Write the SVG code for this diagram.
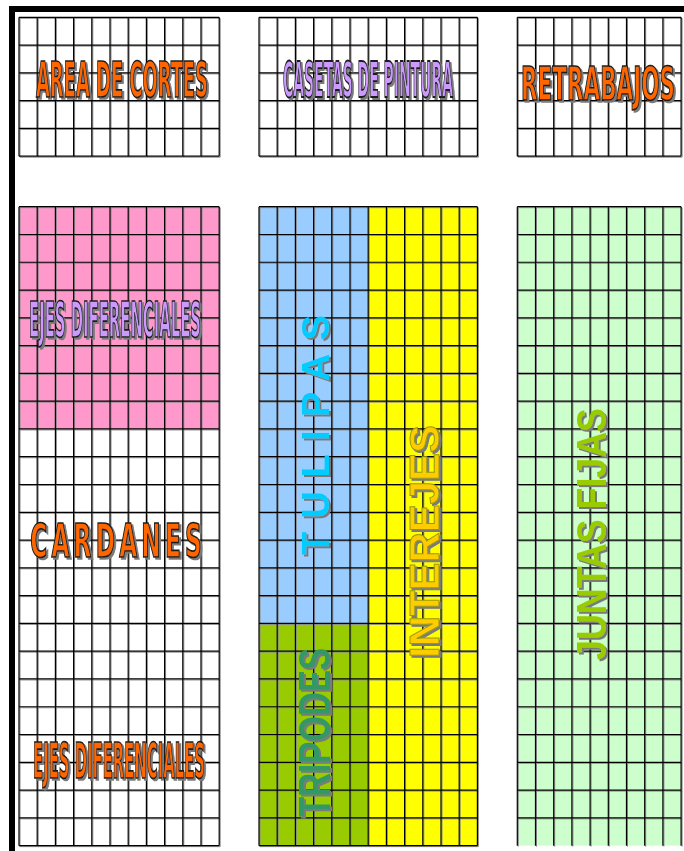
<svg xmlns="http://www.w3.org/2000/svg" width="684" height="851" viewBox="0 0 684 851">
<style>
.bg{fill:#fff}
.gl{fill:none;stroke:#000;stroke-width:1.2}
.gs{fill:none;stroke:#8a8a8a;stroke-width:1}
.wa{font-family:"DejaVu Sans Condensed","Liberation Sans",Arial,sans-serif;font-weight:bold;text-anchor:middle;stroke:#1a1a1a;stroke-width:1.3;vector-effect:non-scaling-stroke}
.or{fill:#FF6600}
.pu{fill:#CC99FF}
.vt{font-family:"Liberation Sans",Arial,sans-serif;font-weight:bold;text-anchor:middle}
</style>
<defs>
<filter id="sh" x="-10%" y="-10%" width="130%" height="130%">
<feDropShadow dx="2" dy="2" stdDeviation="0" flood-color="#7a7a7a" flood-opacity="1"/>
</filter>
<path id="gTL" d="M19 17.3v138.9m18.2-138.9v138.9m18.2-138.9v138.9m18.2-138.9v138.9m18.2-138.9v138.9m18.2-138.9v138.9m18.2-138.9v138.9m18.2-138.9v138.9m18.2-138.9v138.9m18.2-138.9v138.9m18.2-138.9v138.9m18.2-138.9v138.9M19 17.3h200.2m-200.2 27.78h200.2m-200.2 27.78h200.2m-200.2 27.78h200.2m-200.2 27.78h200.2m-200.2 27.78h200.2"/>
<path id="gTM" d="M259 17.3v138.9m18.2-138.9v138.9m18.2-138.9v138.9m18.2-138.9v138.9m18.2-138.9v138.9m18.2-138.9v138.9m18.2-138.9v138.9m18.2-138.9v138.9m18.2-138.9v138.9m18.2-138.9v138.9m18.2-138.9v138.9m18.2-138.9v138.9m18.2-138.9v138.9M259 17.3h218.4m-218.4 27.78h218.4m-218.4 27.78h218.4m-218.4 27.78h218.4m-218.4 27.78h218.4m-218.4 27.78h218.4"/>
<path id="gTR" d="M517.3 17.3v138.9m18.2-138.9v138.9m18.2-138.9v138.9m18.2-138.9v138.9m18.2-138.9v138.9m18.2-138.9v138.9m18.2-138.9v138.9m18.2-138.9v138.9m18.2-138.9v138.9m18.2-138.9v138.9M517.3 17.3h163.8m-163.8 27.78h163.8m-163.8 27.78h163.8m-163.8 27.78h163.8m-163.8 27.78h163.8m-163.8 27.78h163.8"/>
<path id="gBL" d="M19 206.7v638.94m18.2-638.94v638.94m18.2-638.94v638.94m18.2-638.94v638.94m18.2-638.94v638.94m18.2-638.94v638.94m18.2-638.94v638.94m18.2-638.94v638.94m18.2-638.94v638.94m18.2-638.94v638.94m18.2-638.94v638.94m18.2-638.94v638.94M19 206.7h200.2m-200.2 27.78h200.2m-200.2 27.78h200.2m-200.2 27.78h200.2m-200.2 27.78h200.2m-200.2 27.78h200.2m-200.2 27.78h200.2m-200.2 27.78h200.2m-200.2 27.78h200.2m-200.2 27.78h200.2m-200.2 27.78h200.2m-200.2 27.78h200.2m-200.2 27.78h200.2m-200.2 27.78h200.2m-200.2 27.78h200.2m-200.2 27.78h200.2m-200.2 27.78h200.2m-200.2 27.78h200.2m-200.2 27.78h200.2m-200.2 27.78h200.2m-200.2 27.78h200.2m-200.2 27.78h200.2m-200.2 27.78h200.2m-200.2 27.78h200.2"/>
<path id="gBM" d="M259 206.7v638.94m18.2-638.94v638.94m18.2-638.94v638.94m18.2-638.94v638.94m18.2-638.94v638.94m18.2-638.94v638.94m18.2-638.94v638.94m18.2-638.94v638.94m18.2-638.94v638.94m18.2-638.94v638.94m18.2-638.94v638.94m18.2-638.94v638.94m18.2-638.94v638.94M259 206.7h218.4m-218.4 27.78h218.4m-218.4 27.78h218.4m-218.4 27.78h218.4m-218.4 27.78h218.4m-218.4 27.78h218.4m-218.4 27.78h218.4m-218.4 27.78h218.4m-218.4 27.78h218.4m-218.4 27.78h218.4m-218.4 27.78h218.4m-218.4 27.78h218.4m-218.4 27.78h218.4m-218.4 27.78h218.4m-218.4 27.78h218.4m-218.4 27.78h218.4m-218.4 27.78h218.4m-218.4 27.78h218.4m-218.4 27.78h218.4m-218.4 27.78h218.4m-218.4 27.78h218.4m-218.4 27.78h218.4m-218.4 27.78h218.4m-218.4 27.78h218.4"/>
<path id="gBR" d="M517.3 206.7v638.94m18.2-638.94v638.94m18.2-638.94v638.94m18.2-638.94v638.94m18.2-638.94v638.94m18.2-638.94v638.94m18.2-638.94v638.94m18.2-638.94v638.94m18.2-638.94v638.94m18.2-638.94v638.94M517.3 206.7h163.8m-163.8 27.78h163.8m-163.8 27.78h163.8m-163.8 27.78h163.8m-163.8 27.78h163.8m-163.8 27.78h163.8m-163.8 27.78h163.8m-163.8 27.78h163.8m-163.8 27.78h163.8m-163.8 27.78h163.8m-163.8 27.78h163.8m-163.8 27.78h163.8m-163.8 27.78h163.8m-163.8 27.78h163.8m-163.8 27.78h163.8m-163.8 27.78h163.8m-163.8 27.78h163.8m-163.8 27.78h163.8m-163.8 27.78h163.8m-163.8 27.78h163.8m-163.8 27.78h163.8m-163.8 27.78h163.8m-163.8 27.78h163.8"/>
</defs>
<rect class="bg" x="0" y="0" width="684" height="851"/>
<g id="frame">
<rect x="9" y="6" width="675" height="6" fill="#000"/>
<rect x="9" y="6" width="6" height="845" fill="#000"/>
</g>
<g id="area-de-cortes">
<rect x="19" y="17.3" width="200.2" height="138.9" fill="#fff"/>
<use href="#gTL" class="gs" transform="translate(1,1)"/>
<use href="#gTL" class="gl"/>
<g filter="url(#sh)"><text class="wa or" transform="translate(122,97) scale(0.4,1)" x="0" y="0" font-size="50" textLength="430" lengthAdjust="spacingAndGlyphs">AREA DE CORTES</text></g>
</g>
<g id="casetas-de-pintura">
<rect x="259" y="17.3" width="218.4" height="138.9" fill="#fff"/>
<use href="#gTM" class="gs" transform="translate(1,1)"/>
<use href="#gTM" class="gl"/>
<g filter="url(#sh)"><text class="wa pu" transform="translate(368,97) scale(0.31,1)" x="0" y="0" font-size="50" textLength="548" lengthAdjust="spacingAndGlyphs">CASETAS DE PINTURA</text></g>
</g>
<g id="retrabajos">
<rect x="517.3" y="17.3" width="163.8" height="138.9" fill="#fff"/>
<use href="#gTR" class="gs" transform="translate(1,1)"/>
<use href="#gTR" class="gl"/>
<g filter="url(#sh)"><text class="wa or" transform="translate(598,100) scale(0.5,1)" x="0" y="0" font-size="47" textLength="308" lengthAdjust="spacingAndGlyphs">RETRABAJOS</text></g>
</g>
<g id="ejes-cardanes">
<rect x="19" y="206.7" width="200.2" height="638.94" fill="#fff"/>
<rect x="19" y="206.7" width="200.2" height="222.24" fill="#FF99CC"/>
<use href="#gBL" class="gs" transform="translate(1,1)"/>
<use href="#gBL" class="gl"/>
<g filter="url(#sh)"><text class="wa pu" transform="translate(115,336.5) scale(0.34,1)" x="0" y="0" font-size="49" textLength="506" lengthAdjust="spacingAndGlyphs">EJES DIFERENCIALES</text></g>
<g filter="url(#sh)"><text class="wa or" transform="translate(116,556.5) scale(0.55,1)" x="0" y="0" font-size="47" textLength="312" lengthAdjust="spacing">CARDANES</text></g>
<g filter="url(#sh)"><text class="wa or" transform="translate(119,778) scale(0.33,1)" x="0" y="0" font-size="50" textLength="521" lengthAdjust="spacingAndGlyphs">EJES DIFERENCIALES</text></g>
</g>
<g id="tulipas-tripodes-interejes">
<rect x="259" y="206.7" width="109.2" height="416.7" fill="#99CCFF"/>
<rect x="259" y="623.4" width="109.2" height="222.24" fill="#99CC00"/>
<rect x="368.2" y="206.7" width="109.2" height="638.94" fill="#FFFF00"/>
<use href="#gBM" class="gs" transform="translate(1,1)"/>
<use href="#gBM" class="gl"/>
<g filter="url(#sh)"><text class="vt" transform="translate(329,435) rotate(-90)" font-size="38" fill="#00CCFF" textLength="240" lengthAdjust="spacing">TULIPAS</text></g>
<g filter="url(#sh)"><text class="vt" transform="translate(439,541.5) rotate(-90)" font-size="43" fill="#FFCC00" stroke="#9a9a00" stroke-width="1" textLength="233" lengthAdjust="spacingAndGlyphs">INTEREJES</text></g>
<g filter="url(#sh)"><text class="vt" transform="translate(330,732.5) rotate(-90)" font-size="44" fill="#339966" textLength="169" lengthAdjust="spacingAndGlyphs">TRIPODES</text></g>
</g>
<g id="juntas-fijas">
<rect x="517.3" y="206.7" width="163.8" height="638.94" fill="#CCFFCC"/>
<use href="#gBR" class="gs" transform="translate(1,1)"/>
<use href="#gBR" class="gl"/>
<g filter="url(#sh)"><text class="vt" transform="translate(606,534) rotate(-90)" font-size="42" fill="#99CC00" textLength="252" lengthAdjust="spacingAndGlyphs">JUNTAS FIJAS</text></g>
</g>
</svg>
